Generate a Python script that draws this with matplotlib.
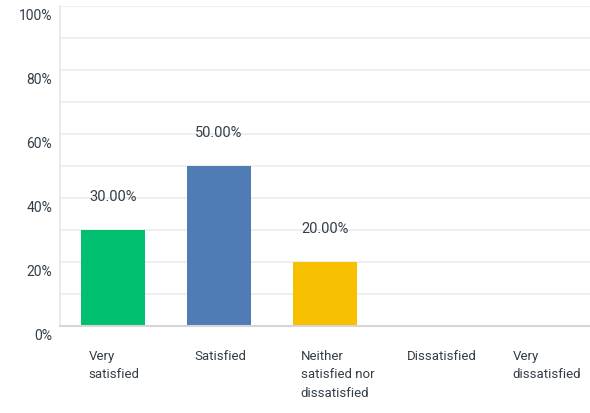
import numpy as np
import matplotlib.pyplot as plt

categories = ["Very\nsatisfied", "Satisfied", "Neither\nsatisfied nor\ndissatisfied",
              "Dissatisfied", "Very\ndissatisfied"]
values = [30.0, 50.0, 20.0, 0.0, 0.0]
colors = ["#00bf6f", "#507cb6", "#f7c000", "#6bc8cd", "#d25f90"]
ytick_values = [0, 20, 40, 60, 80, 100]
ytick_labels = ["0%", "20%", "40%", "60%", "80%", "100%"]

plt.rcParams['font.family'] = ['Roboto', 'DejaVu Sans']
text_color = "#333e48"

fig = plt.figure(figsize=(5.9, 4.13), dpi=100)
ax = fig.add_axes([60 / 590, 1 - 326 / 413, 530 / 590, 320 / 413])

x = np.arange(len(categories))
width = 0.61
ax.set_xlim(-0.5, len(categories) - 0.5)
ax.set_ylim(0, 100)

# gridlines every 10%
for g in range(10, 101, 10):
    ax.axhline(g, color="#ececec", lw=1.2, zorder=0)

for i, v in enumerate(values):
    if v > 0:
        ax.bar(x[i], v, width=width, color=colors[i], zorder=2)
        ax.text(x[i], v + 8, "%.2f%%" % v, ha="center", va="bottom",
                fontsize=10.5, color=text_color)

# y labels sit a little below their gridline
ax.set_yticks([])
for yv, lab in zip(ytick_values, ytick_labels):
    ax.text(-0.575, yv - 3, lab, ha="right", va="center",
            fontsize=10, color=text_color)

ax.set_xticks([])
for i, c in enumerate(categories):
    ax.text(x[i] - width / 2 + 0.075, -7.5, c, ha="left", va="top",
            fontsize=9.5, color=text_color, linespacing=1.55)

for s in ["top", "right"]:
    ax.spines[s].set_visible(False)
ax.spines["left"].set_color("#e6e6e6")
ax.spines["left"].set_linewidth(1.2)
ax.spines["bottom"].set_color("#d6d6d6")
ax.spines["bottom"].set_linewidth(1.5)

fig.savefig("out.png", dpi=100)
